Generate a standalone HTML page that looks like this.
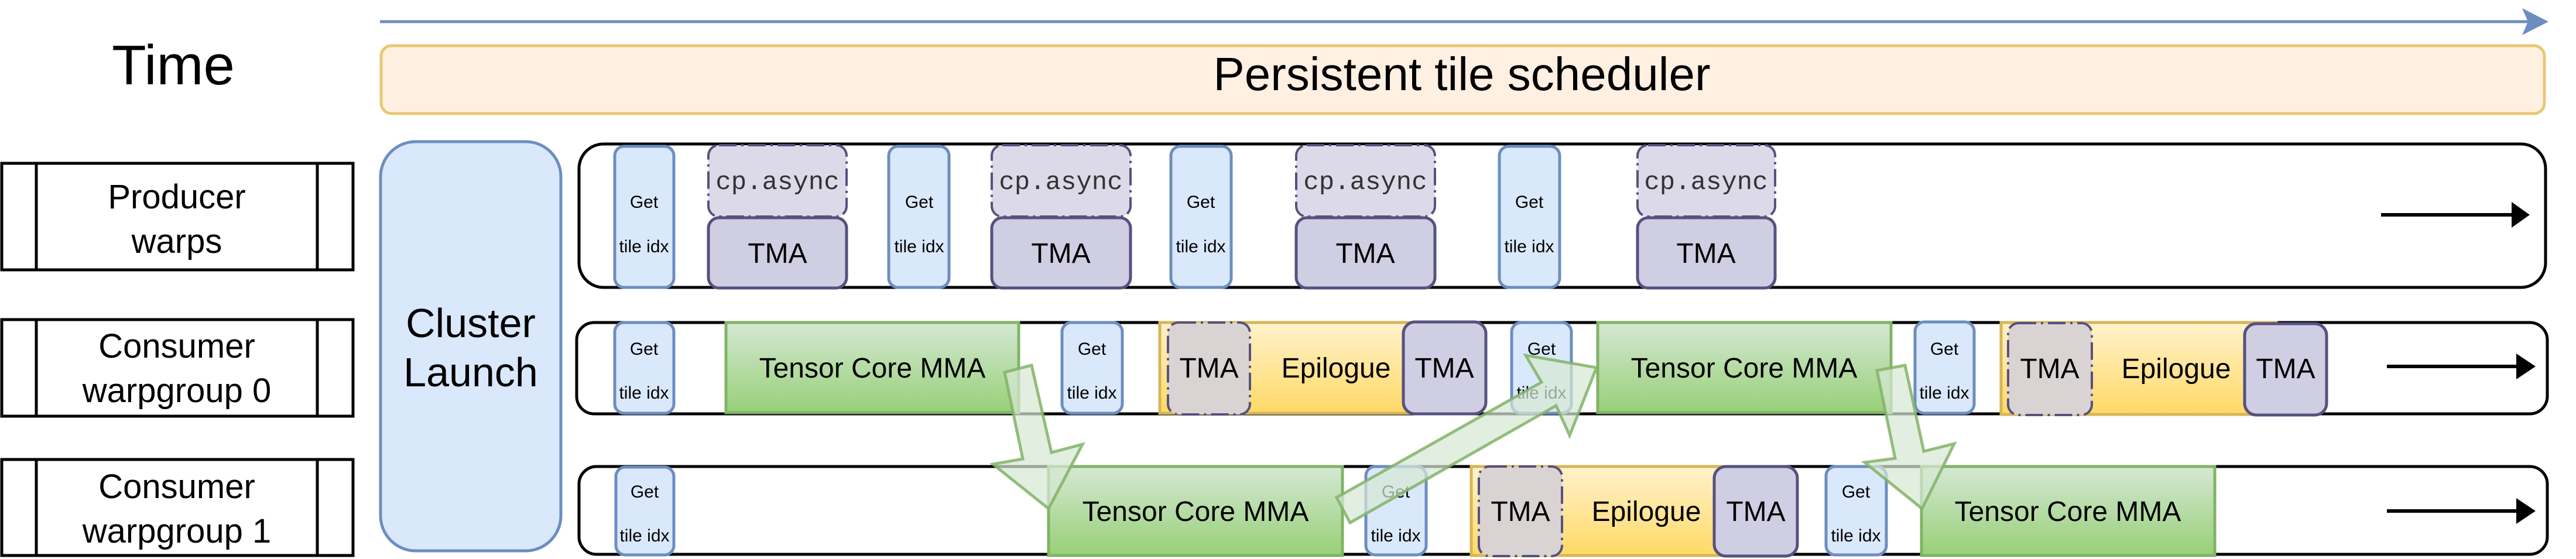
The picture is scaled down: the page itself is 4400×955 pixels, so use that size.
<!DOCTYPE html>
<html><head><meta charset="utf-8"><style>html,body{margin:0;padding:0;background:#fff}svg{display:block}</style></head>
<body>
<svg width="4400" height="955" viewBox="0 0 4400 955" xmlns="http://www.w3.org/2000/svg" font-family="Liberation Sans, sans-serif">
<defs>
<linearGradient id="gr" x1="0" y1="0" x2="0" y2="1"><stop offset="0" stop-color="#d5e8d4"/><stop offset="1" stop-color="#97d077"/></linearGradient>
<linearGradient id="yl" x1="0" y1="0" x2="0" y2="1"><stop offset="0" stop-color="#fff2cc"/><stop offset="1" stop-color="#ffd966"/></linearGradient>
</defs>
<!-- Time -->
<text x="296" y="144" font-size="96" text-anchor="middle">Time</text>
<line x1="649" y1="37" x2="4330" y2="37" stroke="#6c8ebf" stroke-width="5"/>
<path d="M4308 14 L4353 37 L4308 60 L4318 37 Z" fill="#6c8ebf"/>
<!-- scheduler -->
<rect x="651" y="78" width="3695" height="116" rx="18" fill="#fff0e2" stroke="#e8c872" stroke-width="5"/>
<text x="2497" y="154" font-size="80" text-anchor="middle">Persistent tile scheduler</text>
<!-- left labels -->
<g fill="#fff" stroke="#000" stroke-width="5">
<rect x="3" y="279" width="600" height="182"/><line x1="62" y1="279" x2="62" y2="461"/><line x1="542" y1="279" x2="542" y2="461"/>
<rect x="3" y="546" width="600" height="165"/><line x1="62" y1="546" x2="62" y2="711"/><line x1="542" y1="546" x2="542" y2="711"/>
<rect x="3" y="785" width="600" height="164"/><line x1="62" y1="785" x2="62" y2="949"/><line x1="542" y1="785" x2="542" y2="949"/>
</g>
<g font-size="58" text-anchor="middle">
<text x="302" y="356">Producer</text><text x="302" y="432">warps</text>
<text x="302" y="611">Consumer</text><text x="302" y="687">warpgroup 0</text>
<text x="302" y="851">Consumer</text><text x="302" y="927">warpgroup 1</text>
</g>
<!-- cluster -->
<rect x="650" y="242" width="308" height="699" rx="60" fill="#dae8fc" stroke="#6c8ebf" stroke-width="5"/>
<text x="804" y="576" font-size="70" text-anchor="middle">Cluster</text>
<text x="804" y="660" font-size="70" text-anchor="middle">Launch</text>
<!-- lanes -->
<g fill="#fff" stroke="#000" stroke-width="5">
<rect x="989" y="246" width="3359" height="245" rx="42"/>
<rect x="985" y="551" width="3366" height="156" rx="30"/>
<rect x="989" y="797" width="3362" height="150" rx="30"/>
</g>
<g stroke="#000" stroke-width="6"><line x1="4067" y1="367" x2="4300" y2="367"/><line x1="4077" y1="626" x2="4305" y2="626"/><line x1="4077" y1="873" x2="4305" y2="873"/></g>
<g fill="#000"><path d="M4290 345 L4321 367 L4290 389 Z"/><path d="M4298 604 L4331 626 L4298 648 Z"/><path d="M4298 851 L4331 873 L4298 895 Z"/></g>

<!-- producer row -->
<g fill="#dae8fc" stroke="#6c8ebf" stroke-width="5">
<rect x="1050" y="250" width="101" height="241" rx="16"/>
<rect x="1518" y="250" width="103" height="241" rx="16"/>
<rect x="2000" y="250" width="103" height="241" rx="16"/>
<rect x="2561" y="250" width="103" height="241" rx="16"/>
</g>
<g font-size="30" text-anchor="middle">
<text x="1100" y="355">Get</text><text x="1100" y="431">tile idx</text>
<text x="1570" y="355">Get</text><text x="1570" y="431">tile idx</text>
<text x="2051" y="355">Get</text><text x="2051" y="431">tile idx</text>
<text x="2612" y="355">Get</text><text x="2612" y="431">tile idx</text>
</g>
<g fill="#dcdae9" stroke="#56517e" stroke-width="4" stroke-dasharray="30,8,4,8">
<rect x="1210" y="248" width="236" height="122" rx="18"/>
<rect x="1694" y="248" width="237" height="122" rx="18"/>
<rect x="2214" y="248" width="237" height="122" rx="18"/>
<rect x="2797" y="248" width="235" height="122" rx="18"/>
</g>
<g fill="#d0cee2" stroke="#56517e" stroke-width="5">
<rect x="1210" y="372" width="236" height="120" rx="18"/>
<rect x="1694" y="372" width="237" height="120" rx="18"/>
<rect x="2214" y="372" width="237" height="120" rx="18"/>
<rect x="2797" y="372" width="235" height="120" rx="18"/>
</g>
<g font-size="44" font-family="Liberation Mono, monospace" text-anchor="middle" fill="#333">
<text x="1328" y="323">cp.async</text><text x="1812" y="323">cp.async</text><text x="2332" y="323">cp.async</text><text x="2914" y="323">cp.async</text>
</g>
<g font-size="48" text-anchor="middle">
<text x="1328" y="449">TMA</text><text x="1812" y="449">TMA</text><text x="2332" y="449">TMA</text><text x="2914" y="449">TMA</text>
</g>

<!-- consumer 0 -->
<g fill="#dae8fc" stroke="#6c8ebf" stroke-width="5">
<rect x="1050" y="551" width="101" height="155" rx="16"/>
<rect x="1814" y="551" width="103" height="155" rx="16"/>
<rect x="2582" y="551" width="102" height="155" rx="16"/>
<rect x="3271" y="550" width="101" height="156" rx="16"/>
<rect x="1052" y="798" width="99" height="150" rx="16"/>
<rect x="2333" y="797" width="103" height="151" rx="16"/>
<rect x="3119" y="797" width="103" height="151" rx="16"/>
</g>
<g font-size="30" text-anchor="middle">
<text x="1100" y="606">Get</text><text x="1100" y="681">tile idx</text>
<text x="1865" y="606">Get</text><text x="1865" y="681">tile idx</text>
<text x="2633" y="606">Get</text><text x="2633" y="681">tile idx</text>
<text x="3321" y="606">Get</text><text x="3321" y="681">tile idx</text>
<text x="1101" y="850">Get</text><text x="1101" y="925">tile idx</text>
<text x="2384" y="850">Get</text><text x="2384" y="925">tile idx</text>
<text x="3170" y="850">Get</text><text x="3170" y="925">tile idx</text>
</g>
<g fill="url(#gr)" stroke="#82b366" stroke-width="5">
<rect x="1240" y="551" width="500" height="154"/>
<rect x="2729" y="551" width="501" height="154"/>
<rect x="1791" y="797" width="502" height="152"/>
<rect x="3282" y="797" width="501" height="152"/>
</g>
<g fill="url(#yl)" stroke="#d6b656" stroke-width="5">
<rect x="1981" y="551" width="480" height="155"/>
<rect x="3418" y="551" width="470" height="157"/>
<rect x="2513" y="797" width="470" height="152"/>
</g>
<g fill="#dad3d3" stroke="#56517e" stroke-width="4" stroke-dasharray="30,8,4,8">
<rect x="1995" y="551" width="140" height="157" rx="18"/>
<rect x="3430" y="552" width="143" height="157" rx="18"/>
<rect x="2526" y="797" width="142" height="153" rx="18"/>
</g>
<g fill="#d0cee2" stroke="#56517e" stroke-width="5">
<rect x="2397" y="550" width="141" height="157" rx="20"/>
<rect x="3834" y="553" width="140" height="156" rx="20"/>
<rect x="2928" y="797" width="142" height="153" rx="20"/>
</g>
<g font-size="48" text-anchor="middle">
<text x="1490" y="645">Tensor Core MMA</text>
<text x="2979" y="645">Tensor Core MMA</text>
<text x="2042" y="890">Tensor Core MMA</text>
<text x="3532" y="890">Tensor Core MMA</text>
<text x="2065" y="645">TMA</text><text x="2282" y="645">Epilogue</text><text x="2467" y="645">TMA</text>
<text x="3501" y="646">TMA</text><text x="3717" y="646">Epilogue</text><text x="3904" y="646">TMA</text>
<text x="2597" y="890">TMA</text><text x="2812" y="890">Epilogue</text><text x="2999" y="890">TMA</text>
</g>

<!-- block arrows -->
<g fill="rgba(213,232,212,0.72)" stroke="rgba(130,179,102,0.85)" stroke-width="5" stroke-linejoin="miter">
<path d="M1716 636 L1762 624 L1796 773 L1849 759 L1791 869 L1696 793 L1747 784 Z"/>
<path d="M3206 633 L3254 624 L3286 771 L3338 758 L3283 869 L3185 790 L3237 783 Z"/>
<path d="M2283 850 L2633 653 L2606 607 L2727 628 L2681 744 L2658 693 L2306 893 Z"/>
</g>
</svg>
</body></html>
